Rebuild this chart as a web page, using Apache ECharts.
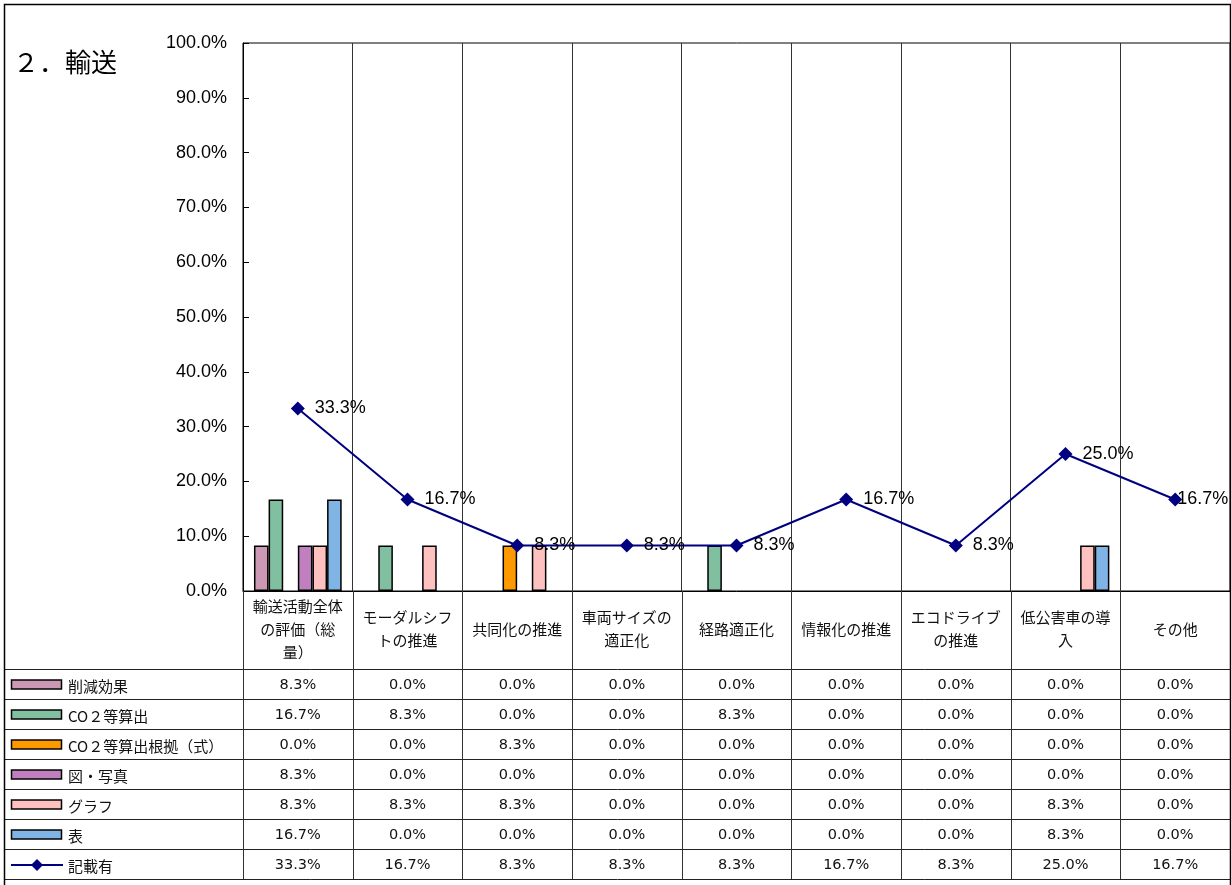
<!DOCTYPE html>
<html><head><meta charset="utf-8">
<script src="https://cdn.jsdelivr.net/npm/echarts@6/dist/echarts.min.js"></script>
<style>html,body{margin:0;padding:0;background:#fff}#c{width:1231px;height:885px}</style>
</head><body><div id="c"></div>
<script>
const chartTitle = '２．輸送';
const categories = ['輸送活動全体\nの評価（総\n量）', 'モーダルシフ\nトの推進', '共同化の推進', '車両サイズの\n適正化', '経路適正化', '情報化の推進', 'エコドライブ\nの推進', '低公害車の導\n入', 'その他'];
const barNames = ['削減効果', 'CO２等算出', 'CO２等算出根拠（式）', '図・写真', 'グラフ', '表'];
const lineName = '記載有';
const reduction = [8.3, 0, 0, 0, 0, 0, 0, 0, 0];
const co2Calc = [16.7, 8.3, 0, 0, 8.3, 0, 0, 0, 0];
const co2Basis = [0, 0, 8.3, 0, 0, 0, 0, 0, 0];
const figPhoto = [8.3, 0, 0, 0, 0, 0, 0, 0, 0];
const graphVals = [8.3, 8.3, 8.3, 0, 0, 0, 0, 8.3, 0];
const tableVals = [16.7, 0, 0, 0, 0, 0, 0, 8.3, 0];
const described = [33.3, 16.7, 8.3, 8.3, 8.3, 16.7, 8.3, 25.0, 16.7];
const yMin = 0, yMax = 100, yStep = 10;

const barColors = ['#CC99B4', '#80C0A0', '#FF9900', '#C080C0', '#FFC0C0', '#80B4E4'];
const lineColor = '#000080';
const barData = [reduction, co2Calc, co2Basis, figPhoto, graphVals, tableVals];
const pct = v => v.toFixed(1) + '%';

const chart = echarts.init(document.getElementById('c'), null, {renderer: 'canvas'});
const GRID = {left: 243, right: 1, top: 43, bottom: 294};
const W = 1231;

const series = barData.map((d, i) => ({
  name: barNames[i], type: 'bar',
  data: d.map(v => v === 0 ? {value: v, itemStyle: {borderWidth: 0}} : v),
  barGap: 0, barCategoryGap: '20%',
  itemStyle: {color: barColors[i], borderColor: '#000', borderWidth: 1.5},
  z: 2
}));
// last point's label is pushed back inside the chart edge
const lineData = described.map((v, i) => i === described.length - 1 ? {value: v, label: {distance: -5}} : v);
series.push({
  name: lineName, type: 'line', data: lineData,
  symbol: 'diamond', symbolSize: 14,
  itemStyle: {color: lineColor},
  lineStyle: {color: lineColor, width: 2},
  label: {show: true, position: 'right', distance: 10, fontSize: 18,
    fontFamily: 'Liberation Sans, Arial, sans-serif', color: '#000',
    formatter: p => pct(p.value)},
  z: 5
});

chart.setOption({
  animation: false,
  backgroundColor: '#fff',
  grid: Object.assign({show: true, borderColor: '#000', borderWidth: 1, containLabel: false, outerBoundsMode: 'none'}, GRID),
  xAxis: {
    type: 'category', data: categories,
    axisLine: {lineStyle: {color: '#000', width: 1}},
    axisTick: {show: false},
    axisLabel: {interval: 0, fontSize: 15, lineHeight: 23, color: '#111',
      fontFamily: 'Noto Sans CJK JP, sans-serif', verticalAlign: 'middle', margin: 38},
    splitLine: {show: true, interval: 0, lineStyle: {color: '#333', width: 1}}
  },
  yAxis: {
    type: 'value', min: yMin, max: yMax, interval: yStep,
    axisLine: {show: true, lineStyle: {color: '#000', width: 1}},
    axisTick: {show: true, inside: true, length: 6, lineStyle: {color: '#000'}},
    axisLabel: {formatter: v => pct(v), fontSize: 18, color: '#000', margin: 16,
      fontFamily: 'Liberation Sans, Arial, sans-serif'},
    splitLine: {show: false}
  },
  series: series
});

const c0 = chart.convertToPixel({xAxisIndex: 0}, 0);
const c1 = chart.convertToPixel({xAxisIndex: 0}, 1);
const band = c1 - c0;
const centers = categories.map((_, i) => chart.convertToPixel({xAxisIndex: 0}, i));
const axisY = chart.convertToPixel({yAxisIndex: 0}, 0);
const tableTop = 669, rowH = 30, tableLeft = 4;
const rows = barNames.concat([lineName]);
const rowVals = barData.concat([described]);
const g = [];
g.push({type: 'rect', shape: {x: 4.5, y: 4.5, width: 1226, height: 900}, style: {fill: null, stroke: '#000', lineWidth: 1.5}, z: 100});
g.push({type: 'text', left: 13, top: 49, style: {text: chartTitle, fontSize: 26, fontFamily: 'Noto Sans CJK JP, sans-serif', fill: '#000'}});
for (let k = 0; k <= rows.length; k++) {
  const y = Math.round(tableTop + k * rowH) + 0.5;
  g.push({type: 'line', shape: {x1: tableLeft, y1: y, x2: W, y2: y}, style: {stroke: '#222', lineWidth: 1}, z: 50});
}
const bottomY = tableTop + rows.length * rowH;
for (let i = 0; i <= categories.length; i++) {
  const x = Math.round(c0 - band / 2 + i * band) + 0.5;
  g.push({type: 'line', shape: {x1: x, y1: axisY, x2: x, y2: bottomY}, style: {stroke: '#333', lineWidth: 1}, z: 50});
}
rows.forEach((name, r) => {
  const cy = tableTop + r * rowH + rowH / 2 + 1;
  if (r < barNames.length) {
    g.push({type: 'rect', shape: {x: 11.5, y: cy - 5, width: 50, height: 9}, style: {fill: barColors[r], stroke: '#000', lineWidth: 1.5}, z: 60});
  } else {
    g.push({type: 'line', shape: {x1: 11, y1: cy, x2: 63, y2: cy}, style: {stroke: lineColor, lineWidth: 2}, z: 60});
    g.push({type: 'polygon', shape: {points: [[37, cy - 6], [43, cy], [37, cy + 6], [31, cy]]}, style: {fill: lineColor}, z: 61});
  }
  g.push({type: 'text', x: 68, y: cy + 1, style: {text: name, fontSize: 15, fontFamily: 'Noto Sans CJK JP, sans-serif', fill: '#111', verticalAlign: 'middle', align: 'left'}, z: 60});
  rowVals[r].forEach((v, i) => {
    g.push({type: 'text', x: centers[i], y: cy, style: {text: pct(v), fontSize: 14.5, fontFamily: 'DejaVu Sans, sans-serif', fill: '#111', align: 'center', verticalAlign: 'middle'}, z: 60});
  });
});
chart.setOption({graphic: g});
</script></body></html>
